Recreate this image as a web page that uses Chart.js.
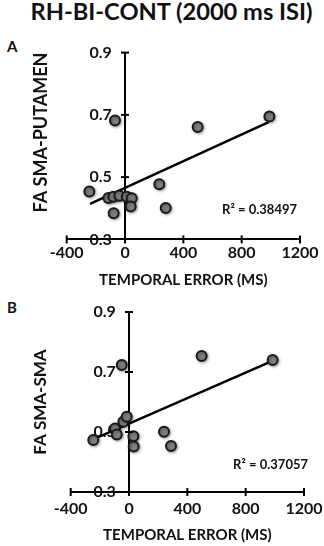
<!DOCTYPE html>
<html>
<head>
<meta charset="utf-8">
<script src="https://cdn.jsdelivr.net/npm/chart.js@4"></script>
<style>
  body { margin: 0; width: 324px; height: 546px; background: #fff; position: relative; overflow: hidden; font-family: Lato, sans-serif; color: #111; }
  #titre { position: absolute; top: 2px; left: 19px; width: 305px; text-align: center; font-size: 21px; line-height: 21px; font-weight: 700; white-space: nowrap; }
  .lettre { position: absolute; left: 7px; font-size: 15px; line-height: 15px; font-weight: 700; }
  .r2 { position: absolute; font-size: 13px; line-height: 13px; font-weight: 700; white-space: nowrap; }
  canvas { position: absolute; left: 0; }
</style>
</head>
<body>
<div id="titre">RH-BI-CONT (2000 ms ISI)</div>
<div class="lettre" style="top:39px">A</div>
<div class="lettre" style="top:300px">B</div>
<canvas id="chartA" width="324" height="249" style="top:40px"></canvas>
<canvas id="chartB" width="324" height="256" style="top:290px"></canvas>
<div class="r2" style="top:203px; right:27px">R² = 0.38497</div>
<div class="r2" style="top:458px; right:16px">R² = 0.37057</div>
<script>
// Graduations communes
const xTicks = [-400, 0, 400, 800, 1200];
const yTicks = [0.3, 0.5, 0.7, 0.9];

// Panneau A : FA SMA-PUTAMEN
const errA = [-245, -114, -80, -39, 12, 46, -78, 39, -69, 235, 279, 498, 990];
const faA = [0.454, 0.433, 0.437, 0.440, 0.437, 0.432, 0.384, 0.406, 0.682, 0.477, 0.401, 0.661, 0.695];
const fitXA = [-240, 985];
const fitYA = [0.414, 0.677];

// Panneau B : FA SMA-SMA
const errB = [-245, -96, -84, -39, -16, 30, 32, -50, 240, 288, 498, 985];
const faB = [0.473, 0.512, 0.492, 0.534, 0.551, 0.486, 0.452, 0.723, 0.501, 0.453, 0.753, 0.740];
const fitXB = [-235, 980];
const fitYB = [0.478, 0.736];

Chart.defaults.font.family = 'Lato, sans-serif';
Chart.defaults.color = '#111';

// Ajuste la taille du titre pour qu'il occupe la même largeur que l'original
function fitTitle() {
    const el = document.getElementById('titre');
    const ctx = document.createElement('canvas').getContext('2d');
    ctx.font = '700 21px Lato';
    const w = ctx.measureText(el.textContent).width;
    const size = Math.min(25, 21 * 283 / w);
    el.style.fontSize = size + 'px';
    el.style.lineHeight = size + 'px';
    el.style.top = (21 - 0.887 * size) + 'px';
}
fitTitle();

// Graduations en croix (les axes se croisent en x = 0, y = 0.3)
const croixTicks = {
    id: 'croixTicks',
    afterDraw(chart) {
        const ctx = chart.ctx;
        const sx = chart.scales.x;
        const sy = chart.scales.y;
        const x0 = sx.getPixelForValue(0);
        const y0 = sy.getPixelForValue(yTicks[0]);
        ctx.save();
        ctx.strokeStyle = '#000';
        ctx.lineWidth = 2;
        xTicks.forEach(v => {
            const px = sx.getPixelForValue(v);
            ctx.beginPath();
            ctx.moveTo(px, y0 + 4);
            ctx.lineTo(px, y0 - 4);
            ctx.stroke();
        });
        yTicks.slice(1).forEach(v => {
            const py = sy.getPixelForValue(v);
            ctx.beginPath();
            ctx.moveTo(x0 - 4, py);
            ctx.lineTo(x0 + 4, py);
            ctx.stroke();
        });
        ctx.restore();
    }
};

// Ombre légère sous les points
const ombre = {
    id: 'ombre',
    beforeDatasetDraw(chart, args) {
        if (args.meta.type !== 'scatter') return;
        const ctx = chart.ctx;
        ctx.save();
        ctx.shadowColor = 'rgba(0,0,0,0.35)';
        ctx.shadowBlur = 3;
        ctx.shadowOffsetX = 1;
        ctx.shadowOffsetY = 1;
    },
    afterDatasetDraw(chart, args) {
        if (args.meta.type !== 'scatter') return;
        chart.ctx.restore();
    }
};

function createPanel(id, errs, fas, fitX, fitY, yTitle, opts) {
    const points = errs.map((e, i) => ({ x: e, y: fas[i] }));
    const fit = fitX.map((e, i) => ({ x: e, y: fitY[i] }));
    const yRange = {
        type: 'linear',
        min: 0.3,
        max: 0.9,
        afterBuildTicks: s => { s.ticks = yTicks.map(v => ({ value: v })); }
    };
    return new Chart(document.getElementById(id), {
        type: 'scatter',
        data: {
            datasets: [{
                type: 'scatter',
                data: points,
                pointRadius: 5,
                pointHoverRadius: 5,
                backgroundColor: '#7f7f7f',
                borderColor: '#1a1a1a',
                borderWidth: 2,
                order: 0
            }, {
                type: 'line',
                data: fit,
                borderColor: '#000',
                borderWidth: 2.5,
                pointRadius: 0,
                fill: false,
                order: 1
            }]
        },
        plugins: [croixTicks, ombre],
        options: {
            responsive: false,
            animation: false,
            events: [],
            layout: { padding: { top: opts.top, right: opts.right, bottom: opts.bottom, left: 0 } },
            plugins: { legend: { display: false }, tooltip: { enabled: false } },
            scales: {
                x: {
                    type: 'linear',
                    position: 'bottom',
                    min: -400,
                    max: 1200,
                    afterBuildTicks: s => { s.ticks = xTicks.map(v => ({ value: v })); },
                    afterFit: s => { s.height = opts.xHeight; s.paddingLeft = 0; s.paddingRight = 0; },
                    grid: { drawOnChartArea: false, drawTicks: true, tickLength: 4, color: 'rgba(0,0,0,0)', lineWidth: 2 },
                    border: { display: true, color: '#000', width: 2 },
                    ticks: { padding: opts.xPad, font: { size: 16, weight: 'bold' }, color: '#111', callback: v => String(v) },
                    title: { display: true, text: 'TEMPORAL ERROR (MS)', font: { size: 15, weight: 'bold' }, color: '#111', padding: { top: 0, bottom: 0 } }
                },
                // axe vertical qui croise l'axe x en 0
                y: {
                    ...yRange,
                    position: { x: 0 },
                    grid: { drawOnChartArea: false, drawTicks: false },
                    border: { display: true, color: '#000', width: 2 },
                    ticks: { display: false }
                },
                // étiquettes de y, décalées à gauche de l'axe
                yl: {
                    ...yRange,
                    position: { x: opts.labelAt },
                    grid: { display: false, drawTicks: false },
                    border: { display: false },
                    ticks: { font: { size: 16, weight: 'bold' }, color: '#111', callback: v => v.toFixed(1) }
                },
                // titre de l'axe y, dans la marge de gauche
                yt: {
                    type: 'linear',
                    position: 'left',
                    afterFit: s => { s.width = opts.left; },
                    grid: { display: false },
                    border: { display: false },
                    ticks: { display: false },
                    title: { display: true, text: yTitle, align: opts.align, font: { size: opts.ySize, weight: 'bold' }, color: '#111', padding: { top: opts.titleX - opts.ySize * 0.6, bottom: 0 } }
                }
            }
        }
    });
}

createPanel('chartA', errA, faA, fitXA, fitYA, 'FA SMA-PUTAMEN',
    { top: 10.7, right: 24, bottom: 0, left: 66.7, xHeight: 49.6, xPad: 0, align: 'end', titleX: 41, ySize: 18, labelAt: -90 });
createPanel('chartB', errB, faB, fitXB, fitYB, 'FA SMA-SMA',
    { top: 22, right: 20, bottom: 1.4, left: 70.7, xHeight: 52.6, xPad: 3, align: 'center', titleX: 41, ySize: 17, labelAt: -90 });
</script>
</body>
</html>
